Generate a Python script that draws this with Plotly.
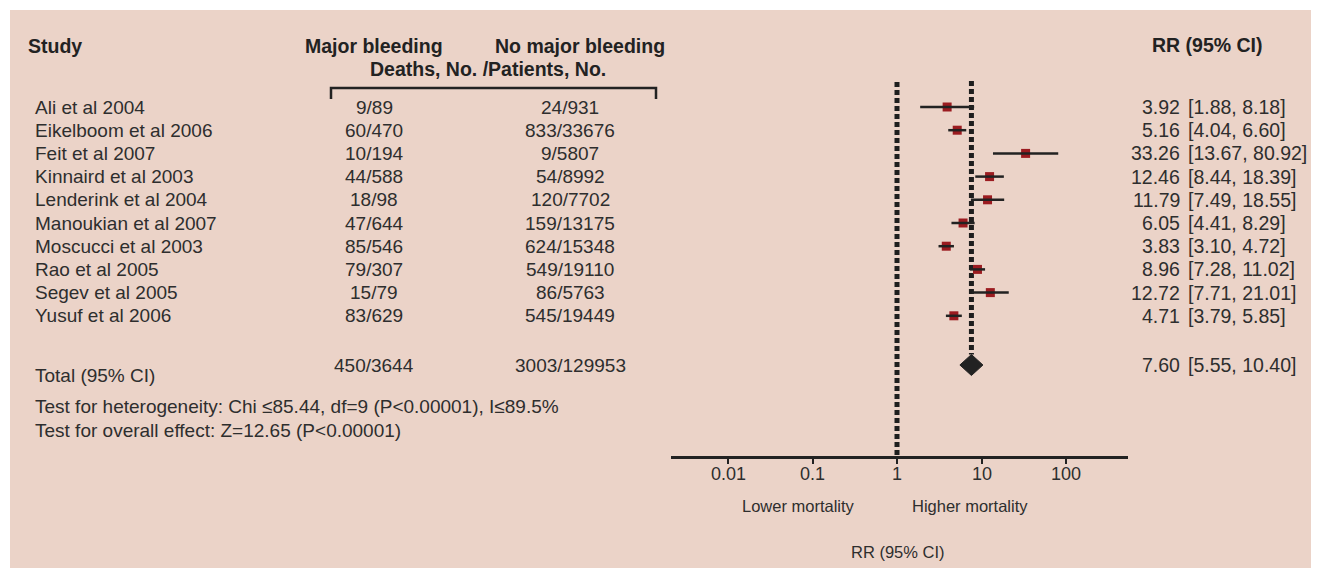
import math
import plotly.graph_objects as go

# ---------------- data ----------------
studies = ["Ali et al 2004", "Eikelboom et al 2006", "Feit et al 2007", "Kinnaird et al 2003",
           "Lenderink et al 2004", "Manoukian et al 2007", "Moscucci et al 2003", "Rao et al 2005",
           "Segev et al 2005", "Yusuf et al 2006"]
major = ["9/89", "60/470", "10/194", "44/588", "18/98", "47/644", "85/546", "79/307", "15/79", "83/629"]
nomajor = ["24/931", "833/33676", "9/5807", "54/8992", "120/7702", "159/13175", "624/15348",
           "549/19110", "86/5763", "545/19449"]
rr = [3.92, 5.16, 33.26, 12.46, 11.79, 6.05, 3.83, 8.96, 12.72, 4.71]
lo = [1.88, 4.04, 13.67, 8.44, 7.49, 4.41, 3.10, 7.28, 7.71, 3.79]
hi = [8.18, 6.60, 80.92, 18.39, 18.55, 8.29, 4.72, 11.02, 21.01, 5.85]
total_major = "450/3644"
total_nomajor = "3003/129953"
total_rr, total_lo, total_hi = 7.60, 5.55, 10.40
tick_vals = [0.01, 0.1, 1, 10, 100]
tick_text = ["0.01", "0.1", "1", "10", "100"]
het_text = "Test for heterogeneity: Chi \u226485.44, df=9 (P<0.00001), I\u226489.5%"
overall_text = "Test for overall effect: Z=12.65 (P<0.00001)"

# ---------------- layout helpers ----------------
OFF = 8                      # page body margin in the browser
W, H = 1319 - 2 * OFF, 576 - 2 * OFF
BG = "#EBD3C8"
INK = "#2e2e2e"
BOLD_INK = "#222222"
REG = "Liberation Sans, Arial, sans-serif"
BOLDF = "Liberation Sans, Arial, sans-serif"

ROW0_PX, ROW_STEP = 107.0, 23.2      # page pixel of first row, row spacing
AX_TOP_PX, AX_BOT_PX = 60.0, 456.0
X_LEFT_PX, X_RIGHT_PX = 671.0, 1128.0
ONE_PX, DEC_PX = 897.0, 84.5


def px2row(py):
    return (py - ROW0_PX) / ROW_STEP


def xp(px):
    return (px - OFF) / W


def yp(py):
    return 1 - (py - OFF) / H


rows = list(range(len(studies)))
total_row = px2row(365)
dia_half = 10.5 / ROW_STEP

fig = go.Figure()

# reference lines (dotted)
fig.add_trace(go.Scatter(x=[1, 1], y=[px2row(82), px2row(AX_BOT_PX)], mode="lines",
                         line=dict(color="#1e1e1e", width=5, dash="5px,3px"),
                         hoverinfo="skip", showlegend=False))
fig.add_trace(go.Scatter(x=[total_rr, total_rr], y=[px2row(81), total_row - dia_half],
                         mode="lines", line=dict(color="#1e1e1e", width=5, dash="5px,3px"),
                         hoverinfo="skip", showlegend=False))

# study squares
fig.add_trace(go.Scatter(x=rr, y=rows, mode="markers",
                         marker=dict(symbol="square", size=9, color="#9B1B20", line=dict(width=0)),
                         hoverinfo="skip", showlegend=False))
# CI lines (over the squares)
for i in rows:
    fig.add_trace(go.Scatter(x=[lo[i], hi[i]], y=[i, i], mode="lines",
                             line=dict(color="#222222", width=2.5),
                             hoverinfo="skip", showlegend=False))

# pooled diamond
fig.add_trace(go.Scatter(x=[total_lo, total_rr, total_hi, total_rr, total_lo],
                         y=[total_row, total_row - dia_half, total_row, total_row + dia_half, total_row],
                         mode="lines", fill="toself", fillcolor="#222222",
                         line=dict(color="#222222", width=1),
                         hoverinfo="skip", showlegend=False))

ann = []


def txt(x, y, s, size=19, color=INK, family=REG, xanchor="left", yref="y", xref="paper"):
    ann.append(dict(x=x, y=y, xref=xref, yref=yref, text=s, showarrow=False,
                    xanchor=xanchor, yanchor="middle",
                    font=dict(size=size, color=color, family=family)))


# headers
HS = 19.5
txt(xp(26), yp(46), "<b>Study</b>", size=HS, color=BOLD_INK, family=BOLDF, yref="paper")
txt(xp(374), yp(46), "<b>Major bleeding</b>", size=HS, color=BOLD_INK, family=BOLDF,
    xanchor="center", yref="paper")
txt(xp(580), yp(46), "<b>No major bleeding</b>", size=HS, color=BOLD_INK, family=BOLDF,
    xanchor="center", yref="paper")
txt(xp(488), yp(69), "<b>Deaths, No. /Patients, No.</b>", size=HS, color=BOLD_INK, family=BOLDF,
    xanchor="center", yref="paper")
txt(xp(1207), yp(45), "<b>RR (95% CI)</b>", size=HS, color=BOLD_INK, family=BOLDF,
    xanchor="center", yref="paper")

# rows
RS = 19.5
for i in rows:
    txt(xp(33), i, studies[i])
    txt(xp(374), i, major[i], xanchor="center")
    txt(xp(570), i, nomajor[i], xanchor="center")
    txt(xp(1182), i, f"{rr[i]:.2f}", size=RS, xanchor="right")
    txt(xp(1186), i, f"[{lo[i]:.2f}, {hi[i]:.2f}]", size=RS)

# totals
txt(xp(33), px2row(375), "Total (95% CI)")
txt(xp(374), total_row, total_major, xanchor="center")
txt(xp(570), total_row, total_nomajor, xanchor="center")
txt(xp(1182), total_row, f"{total_rr:.2f}", size=RS, xanchor="right")
txt(xp(1186), total_row, f"[{total_lo:.2f}, {total_hi:.2f}]", size=RS)

txt(xp(33), yp(406), het_text, yref="paper")
txt(xp(33), yp(430), overall_text, yref="paper")

# tick labels (placed on the log axis)
for v, t in zip(tick_vals, tick_text):
    txt(math.log10(v), yp(474), t, size=18, xanchor="center", yref="paper", xref="x")

# axis captions
txt(xp(798), yp(506), "Lower mortality", size=16.5, xanchor="center", yref="paper")
txt(xp(970), yp(506), "Higher mortality", size=16.5, xanchor="center", yref="paper")
txt(xp(898), yp(552), "RR (95% CI)", size=16.5, xanchor="center", yref="paper")

shapes = [
    dict(type="rect", xref="paper", yref="paper", x0=xp(10), x1=1, y0=0, y1=yp(10),
         fillcolor=BG, line=dict(width=0), layer="below"),
    dict(type="path", xref="paper", yref="paper",
         path=f"M {xp(331)} {yp(99)} L {xp(331)} {yp(88)} L {xp(656)} {yp(88)} L {xp(656)} {yp(99)}",
         line=dict(color="#222222", width=2.5)),
]

x_range = [(X_LEFT_PX - ONE_PX) / DEC_PX, (X_RIGHT_PX - ONE_PX) / DEC_PX]

fig.update_layout(
    width=W, height=H,
    margin=dict(l=0, r=0, t=0, b=0),
    paper_bgcolor="white",
    plot_bgcolor="rgba(0,0,0,0)",
    showlegend=False,
    annotations=ann,
    shapes=shapes,
    xaxis=dict(type="log", range=x_range, domain=[xp(X_LEFT_PX), xp(X_RIGHT_PX)],
               showgrid=False, zeroline=False, showline=True, linecolor="#222222", linewidth=2.5,
               ticks="outside", ticklen=5, tickwidth=2, tickcolor="#222222",
               tickvals=tick_vals, showticklabels=False, fixedrange=True),
    yaxis=dict(range=[px2row(AX_BOT_PX), px2row(AX_TOP_PX)], domain=[yp(AX_BOT_PX), yp(AX_TOP_PX)],
               visible=False, fixedrange=True),
)

fig.write_html("out.html")
